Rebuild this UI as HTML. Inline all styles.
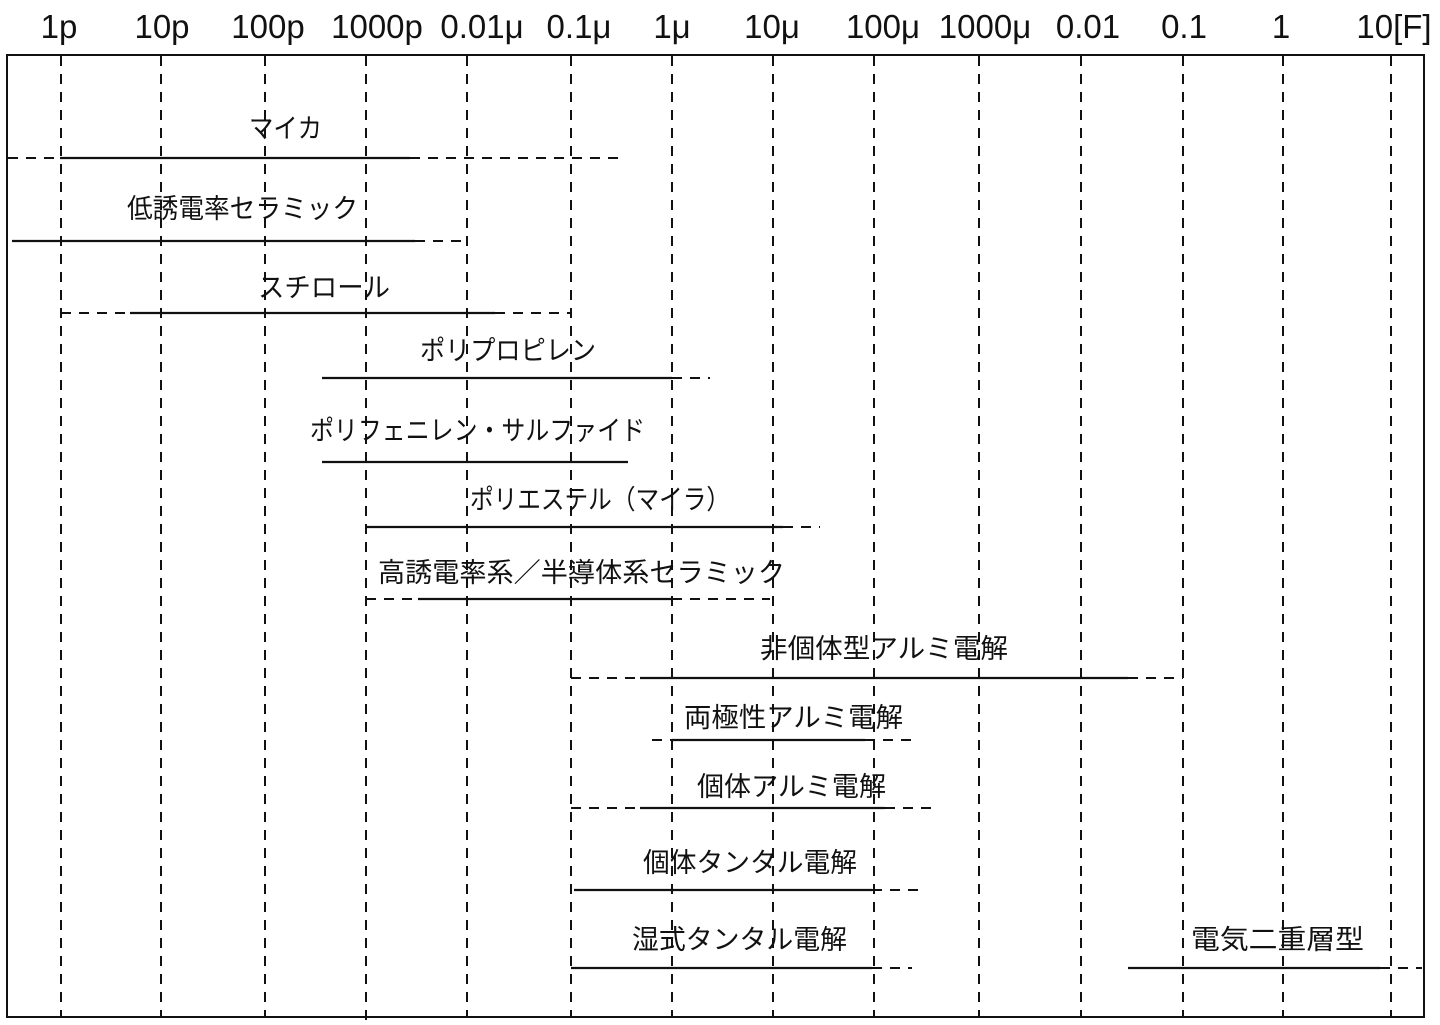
<!DOCTYPE html>
<html><head><meta charset="utf-8"><style>
html,body{margin:0;padding:0;background:#fff;}
svg{display:block;}
text{font-family:"Liberation Sans","Noto Sans CJK JP",sans-serif;fill:#111;}
</style></head><body>
<svg width="1440" height="1025" viewBox="0 0 1440 1025" xmlns="http://www.w3.org/2000/svg">
<rect x="0" y="0" width="1440" height="1025" fill="#fff"/>
<g font-size="33" text-anchor="middle">
<text x="59" y="38">1p</text>
<text x="162" y="38">10p</text>
<text x="268" y="38">100p</text>
<text x="377" y="38">1000p</text>
<text x="482" y="38">0.01μ</text>
<text x="579" y="38">0.1μ</text>
<text x="672" y="38">1μ</text>
<text x="772" y="38">10μ</text>
<text x="883" y="38">100μ</text>
<text x="985" y="38">1000μ</text>
<text x="1088" y="38">0.01</text>
<text x="1184" y="38">0.1</text>
<text x="1281" y="38">1</text>
<text x="1394" y="38">10[F]</text>
</g>
<rect x="7" y="55" width="1417" height="962" fill="none" stroke="#111" stroke-width="2"/>
<g stroke="#111" stroke-width="2" stroke-dasharray="10,8" fill="none">
<line x1="61" y1="56" x2="61" y2="1016"/>
<line x1="161" y1="56" x2="161" y2="1016"/>
<line x1="265" y1="56" x2="265" y2="1016"/>
<line x1="366" y1="56" x2="366" y2="1022"/>
<line x1="467" y1="56" x2="467" y2="1016"/>
<line x1="571" y1="56" x2="571" y2="1016"/>
<line x1="672" y1="56" x2="672" y2="1016"/>
<line x1="773" y1="56" x2="773" y2="1016"/>
<line x1="874" y1="56" x2="874" y2="1016"/>
<line x1="979" y1="56" x2="979" y2="1016"/>
<line x1="1081" y1="56" x2="1081" y2="1016"/>
<line x1="1183" y1="56" x2="1183" y2="1016"/>
<line x1="1283" y1="56" x2="1283" y2="1016"/>
<line x1="1391" y1="56" x2="1391" y2="1016"/>
<line x1="8" y1="158" x2="60" y2="158"/>
<line x1="410" y1="158" x2="618" y2="158"/>
<line x1="415" y1="241" x2="467" y2="241"/>
<line x1="61" y1="313" x2="130" y2="313"/>
<line x1="495" y1="313" x2="570" y2="313"/>
<line x1="672" y1="378" x2="710" y2="378"/>
<line x1="783" y1="527" x2="820" y2="527"/>
<line x1="366" y1="599" x2="418" y2="599"/>
<line x1="672" y1="599" x2="770" y2="599"/>
<line x1="571" y1="678" x2="640" y2="678"/>
<line x1="1128" y1="678" x2="1183" y2="678"/>
<line x1="652" y1="740" x2="672" y2="740"/>
<line x1="865" y1="740" x2="918" y2="740"/>
<line x1="571" y1="808" x2="640" y2="808"/>
<line x1="885" y1="808" x2="935" y2="808"/>
<line x1="872" y1="890" x2="925" y2="890"/>
<line x1="872" y1="968" x2="912" y2="968"/>
<line x1="1380" y1="968" x2="1422" y2="968"/>
</g>
<g stroke="#111" stroke-width="2.2">
<line x1="60" y1="158" x2="410" y2="158"/>
<line x1="12" y1="241" x2="415" y2="241"/>
<line x1="130" y1="313" x2="495" y2="313"/>
<line x1="322" y1="378" x2="672" y2="378"/>
<line x1="322" y1="462" x2="628" y2="462"/>
<line x1="366" y1="527" x2="783" y2="527"/>
<line x1="418" y1="599" x2="672" y2="599"/>
<line x1="640" y1="678" x2="1128" y2="678"/>
<line x1="672" y1="740" x2="865" y2="740"/>
<line x1="640" y1="808" x2="885" y2="808"/>
<line x1="574" y1="890" x2="872" y2="890"/>
<line x1="571" y1="968" x2="872" y2="968"/>
<line x1="1128" y1="968" x2="1380" y2="968"/>
</g>
<g font-size="27" lengthAdjust="spacingAndGlyphs">
<text x="249" y="138" textLength="73" lengthAdjust="spacingAndGlyphs">マイカ</text>
<text x="127" y="218" textLength="231" lengthAdjust="spacingAndGlyphs">低誘電率セラミック</text>
<text x="258" y="297" textLength="132" lengthAdjust="spacingAndGlyphs">スチロール</text>
<text x="420" y="360" textLength="176" lengthAdjust="spacingAndGlyphs">ポリプロピレン</text>
<text x="310" y="440" textLength="335" lengthAdjust="spacingAndGlyphs">ポリフェニレン・サルファイド</text>
<text x="470" y="509" textLength="260" lengthAdjust="spacingAndGlyphs">ポリエステル（マイラ）</text>
<text x="378" y="582" textLength="407" lengthAdjust="spacingAndGlyphs">高誘電率系／半導体系セラミック</text>
<text x="760" y="658" textLength="248" lengthAdjust="spacingAndGlyphs">非個体型アルミ電解</text>
<text x="684" y="727" textLength="219" lengthAdjust="spacingAndGlyphs">両極性アルミ電解</text>
<text x="697" y="796" textLength="189" lengthAdjust="spacingAndGlyphs">個体アルミ電解</text>
<text x="643" y="872" textLength="214" lengthAdjust="spacingAndGlyphs">個体タンタル電解</text>
<text x="632" y="949" textLength="215" lengthAdjust="spacingAndGlyphs">湿式タンタル電解</text>
<text x="1191" y="949" textLength="173" lengthAdjust="spacingAndGlyphs">電気二重層型</text>
</g>
</svg>
</body></html>
